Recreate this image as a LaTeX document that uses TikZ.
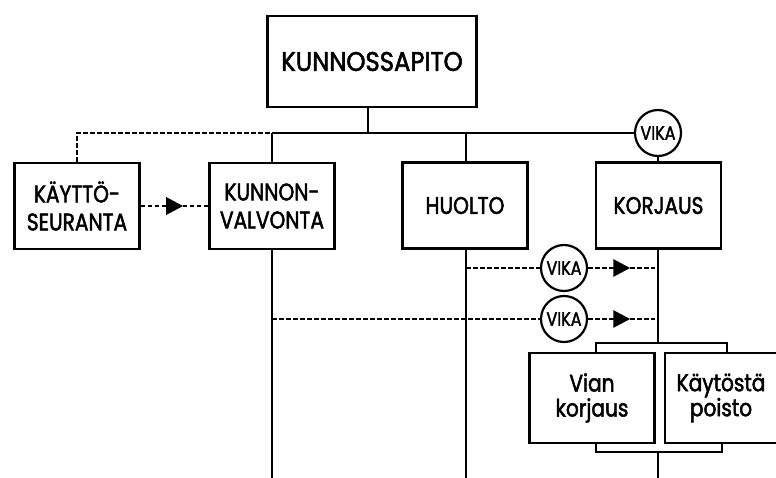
\documentclass[tikz,border=0pt]{standalone}
\usepackage{fontspec}
\setmainfont{Poppins}[FakeStretch=0.84,FakeBold=2]
\newfontfamily\titlefont{Poppins}[FakeStretch=0.9,FakeBold=2]
\usetikzlibrary{arrows.meta,decorations.markings}
\begin{document}
\begin{tikzpicture}[x=1pt,y=-1pt,
  box/.style={draw,line width=2.8pt,minimum width=125pt,minimum height=86pt,inner sep=0pt,align=center,font=\fontsize{24}{28}\selectfont},
  sbox/.style={box,font=\fontsize{24}{25}\selectfont,minimum height=90pt},
  vika/.style={draw,circle,line width=2.2pt,minimum size=46pt,inner sep=0pt,font=\fontsize{19}{20}\selectfont},
  conn/.style={line width=2.4pt},
  dconn/.style={line width=2.8pt,dash pattern=on 4.5pt off 2.5pt},
  midarrow/.style={postaction={decorate},decoration={markings,mark=at position #1 with {\arrow{Triangle[length=17pt,width=17pt]}}}}
]
\useasboundingbox (0,0) rectangle (776,478);
\node[box,minimum width=209pt,minimum height=91pt,font=\titlefont\fontsize{27}{30}\selectfont] (top) at (372,61.5) {KUNNOSSAPITO};
\node[box] (kays) at (77,206) {KÄYTTÖ-\\SEURANTA};
\node[box] (kunv) at (272,206) {KUNNON-\\VALVONTA};
\node[box] (huolto) at (465,205.5) {HUOLTO};
\node[box] (korj) at (658.5,205.5) {KORJAUS};
\node[vika] (v0) at (658,133) {VIKA};
\node[vika] (v1) at (564,268) {VIKA};
\node[vika] (v2) at (564,319) {VIKA};
\node[sbox] (vian) at (592,398) {Vian\\korjaus};
\node[font=\fontsize{24}{25}\selectfont,align=center,inner sep=0pt] (kayt) at (721,398) {Käytöstä\\poisto};
% open box on the right edge
\draw[line width=2.8pt] (782,353) -- (665,353) -- (665,443) -- (782,443);
% coordinates
\coordinate (busL) at (272,133);
\coordinate (stem) at (368,133);
\coordinate (h1) at (466,268);
\coordinate (k1) at (655,268);
\coordinate (k2) at (655,319);
\coordinate (kv2) at (272,319);
\coordinate (bt) at (658,343);
\coordinate (bb) at (658,452);
\coordinate (e1) at (272,478);
\coordinate (e2) at (466,478);
\coordinate (e3) at (658,478);
% solid connectors
\draw[conn] (top.south -| stem) -- (stem);
\draw[conn] (busL) -- (v0.west);
\draw[conn] (busL) -- (kunv.north);
\draw[conn] (huolto.north -| h1) -- (h1 |- busL);
\draw[conn] (v0.south) -- (v0.south |- korj.north);
\draw[conn] (kunv.south) -- (e1);
\draw[conn] (huolto.south -| h1) -- (e2);
\draw[conn] (korj.south -| bt) -- (bt);
\draw[conn] (596,353) -- (596,343) -- (727,343) -- (727,353);
\draw[conn] (596,443) -- (596,452) -- (722,452) -- (722,443);
\draw[conn] (bb) -- (e3);
% dashed connectors
\draw[dconn] (kays.north) |- (busL);
\draw[dconn,midarrow=0.63] (kays.east) -- (kunv.west);
\draw[dconn] (h1) -- (v1.west);
\draw[dconn,midarrow=0.63] (v1.east) -- (k1);
\draw[dconn] (kv2) -- (v2.west);
\draw[dconn,midarrow=0.63] (v2.east) -- (k2);
\end{tikzpicture}
\end{document}
